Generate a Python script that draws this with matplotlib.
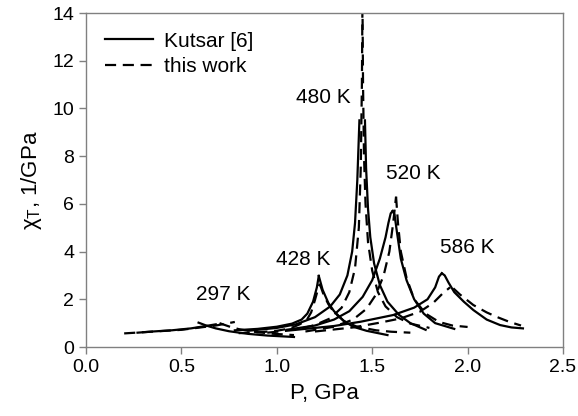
import matplotlib
matplotlib.use("Agg")
import matplotlib.pyplot as plt

plt.rcParams['font.family'] = ['Liberation Sans', 'DejaVu Sans']
plt.rcParams['mathtext.fontset'] = 'custom'
plt.rcParams['mathtext.rm'] = 'Liberation Sans'

# ---- data (P in GPa, chi_T in 1/GPa); each curve = low-P branch + high-P branch ----
# 297 K
k297_left_P = [0.27, 0.35, 0.45, 0.55, 0.62, 0.68]
k297_left_c = [0.60, 0.65, 0.70, 0.78, 0.87, 0.95]
k297_right_P = [0.59, 0.63, 0.68, 0.75, 0.85, 0.95, 1.09]
k297_right_c = [1.02, 0.90, 0.78, 0.66, 0.55, 0.48, 0.42]
w297_left_P = [0.20, 0.30, 0.40, 0.50, 0.60, 0.68, 0.78]
w297_left_c = [0.57, 0.62, 0.67, 0.72, 0.82, 0.90, 1.05]
w297_right_P = [0.70, 0.75, 0.80, 0.88, 0.97, 1.09]
w297_right_c = [1.00, 0.86, 0.75, 0.64, 0.56, 0.50]

# 428 K
k428_left_P = [0.78, 0.90, 1.00, 1.08, 1.13, 1.16, 1.19, 1.21, 1.22]
k428_left_c = [0.70, 0.76, 0.85, 0.98, 1.15, 1.40, 1.90, 2.50, 2.98]
k428_right_P = [1.22, 1.24, 1.27, 1.30, 1.35, 1.40, 1.47, 1.58]
k428_right_c = [2.98, 2.40, 1.85, 1.50, 1.10, 0.85, 0.68, 0.50]
w428_left_P = [0.80, 0.91, 1.00, 1.07, 1.12, 1.157, 1.18, 1.20, 1.215, 1.225]
w428_left_c = [0.58, 0.62, 0.68, 0.78, 0.95, 1.13, 1.45, 1.97, 2.40, 2.65]
w428_right_P = [1.225, 1.245, 1.27, 1.30, 1.35, 1.42, 1.52, 1.60, 1.70]
w428_right_c = [2.65, 2.20, 1.80, 1.45, 1.10, 0.85, 0.70, 0.64, 0.60]

# 480 K
k480_left_P = [0.85, 1.00, 1.10, 1.20, 1.28, 1.33, 1.37, 1.395, 1.41, 1.422, 1.433]
k480_left_c = [0.68, 0.80, 0.95, 1.25, 1.70, 2.20, 3.00, 4.00, 5.20, 7.00, 9.50]
k480_right_P = [1.462, 1.468, 1.478, 1.49, 1.51, 1.54, 1.58, 1.64, 1.70, 1.78]
k480_right_c = [9.50, 7.50, 5.80, 4.60, 3.50, 2.60, 1.90, 1.35, 1.00, 0.72]
w480_left_P = [0.95, 1.10, 1.20, 1.28, 1.34, 1.38, 1.41, 1.43, 1.44, 1.446, 1.449]
w480_left_c = [0.60, 0.72, 0.92, 1.20, 1.65, 2.30, 3.30, 5.00, 7.50, 11.0, 14.5]
w480_right_P = [1.449, 1.452, 1.457, 1.465, 1.478, 1.50, 1.53, 1.57, 1.63, 1.70, 1.80]
w480_right_c = [14.5, 11.0, 8.00, 6.00, 4.40, 3.20, 2.30, 1.70, 1.25, 0.98, 0.80]

# 520 K
k520_left_P = [1.05, 1.20, 1.30, 1.38, 1.45, 1.50, 1.54, 1.57, 1.585, 1.597, 1.607]
k520_left_c = [0.72, 0.90, 1.15, 1.50, 2.10, 2.80, 3.70, 4.60, 5.20, 5.60, 5.70]
k520_right_P = [1.607, 1.617, 1.63, 1.65, 1.68, 1.72, 1.77, 1.83, 1.93]
k520_right_c = [5.70, 5.55, 4.80, 3.70, 2.80, 2.00, 1.40, 1.00, 0.76]
w520_left_P = [1.15, 1.30, 1.40, 1.47, 1.52, 1.56, 1.59, 1.61, 1.625]
w520_left_c = [0.65, 0.85, 1.15, 1.60, 2.20, 3.00, 4.00, 5.20, 6.30]
w520_right_P = [1.625, 1.635, 1.65, 1.68, 1.72, 1.78, 1.85, 1.92, 2.00]
w520_right_c = [6.30, 5.20, 4.00, 2.90, 2.00, 1.40, 1.05, 0.90, 0.84]

# 586 K
k586_left_P = [1.10, 1.30, 1.44, 1.61, 1.72, 1.79, 1.83, 1.85, 1.865]
k586_left_c = [0.72, 0.88, 1.06, 1.34, 1.65, 2.00, 2.50, 2.95, 3.09]
k586_right_P = [1.865, 1.88, 1.90, 1.93, 1.98, 2.03, 2.10, 2.17, 2.23, 2.29]
k586_right_c = [3.09, 3.00, 2.70, 2.30, 1.90, 1.55, 1.15, 0.92, 0.82, 0.78]
w586_left_P = [1.20, 1.40, 1.54, 1.65, 1.75, 1.82, 1.87, 1.908]
w586_left_c = [0.65, 0.82, 1.02, 1.20, 1.48, 1.85, 2.25, 2.50]
w586_right_P = [1.925, 1.96, 2.03, 2.10, 2.15, 2.22, 2.28]
w586_right_c = [2.46, 2.20, 1.76, 1.45, 1.27, 1.05, 0.90]

temp_labels = ['297 K', '428 K', '480 K', '520 K', '586 K']
label_P = [0.718, 1.137, 1.242, 1.714, 2.00]
label_c = [2.18, 3.65, 10.44, 7.29, 4.15]

kutsar = [
    (k297_left_P, k297_left_c), (k297_right_P, k297_right_c),
    (k428_left_P, k428_left_c), (k428_right_P, k428_right_c),
    (k480_left_P, k480_left_c), (k480_right_P, k480_right_c),
    (k520_left_P, k520_left_c), (k520_right_P, k520_right_c),
    (k586_left_P, k586_left_c), (k586_right_P, k586_right_c),
]
thiswork = [
    (w297_left_P, w297_left_c), (w297_right_P, w297_right_c),
    (w428_left_P, w428_left_c), (w428_right_P, w428_right_c),
    (w480_left_P, w480_left_c), (w480_right_P, w480_right_c),
    (w520_left_P, w520_left_c), (w520_right_P, w520_right_c),
    (w586_left_P, w586_left_c), (w586_right_P, w586_right_c),
]

fig = plt.figure(figsize=(5.78, 4.16), dpi=100)
ax = fig.add_axes([86/578, 1-347/416, (563-86)/578, (347-13)/416])

for i, (p, c) in enumerate(kutsar):
    ax.plot(p, c, color='black', lw=1.6, ls='-', solid_joinstyle='round',
            label='Kutsar [6]' if i == 0 else None)
for i, (p, c) in enumerate(thiswork):
    ax.plot(p, c, color='black', lw=1.6, ls=(0, (5, 3)),
            label='this work' if i == 0 else None)

for t, x, y in zip(temp_labels, label_P, label_c):
    ax.text(x, y, t, ha='center', va='center', fontsize=15)

ax.set_xlim(0, 2.5)
ax.set_ylim(0, 14)
ax.set_xticks([0.0, 0.5, 1.0, 1.5, 2.0, 2.5])
ax.set_xticklabels(['0.0', '0.5', '1.0', '1.5', '2.0', '2.5'])
ax.set_yticks(range(0, 15, 2))
ax.tick_params(direction='out', length=5, width=1, colors='#808080',
               labelcolor='black', labelsize=14)
for s in ax.spines.values():
    s.set_color('#808080')
    s.set_linewidth(1)

ax.set_xlabel('P, GPa', fontsize=16, labelpad=5)
ax.set_ylabel('χ$_\\mathrm{T}$, 1/GPa', fontsize=16, labelpad=6)

leg = ax.legend(loc='upper left', frameon=False, fontsize=15,
                handlelength=2.3, handletextpad=0.55, borderaxespad=0.5,
                labelspacing=0.3)

fig.savefig('out.png', dpi=100)
